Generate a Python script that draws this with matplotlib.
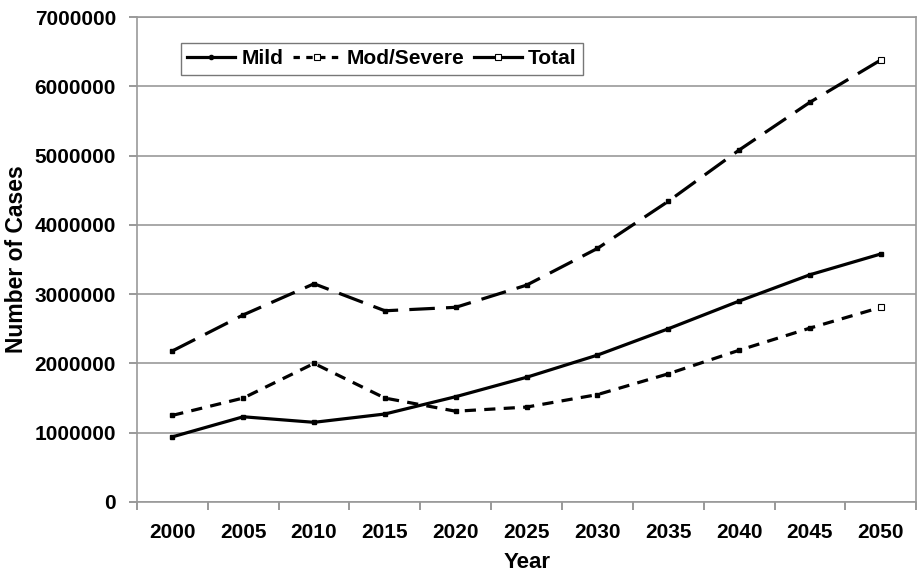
import matplotlib
matplotlib.use("Agg")
import matplotlib.pyplot as plt
from matplotlib.ticker import FixedLocator
from matplotlib.lines import Line2D

plt.rcParams['font.family'] = ['Liberation Sans', 'DejaVu Sans']

years = [2000, 2005, 2010, 2015, 2020, 2025, 2030, 2035, 2040, 2045, 2050]
mild = [940000, 1230000, 1150000, 1270000, 1520000, 1800000, 2120000, 2500000, 2900000, 3280000, 3580000]
mod_severe = [1250000, 1500000, 2000000, 1500000, 1310000, 1370000, 1550000, 1850000, 2190000, 2510000, 2810000]
total = [2180000, 2700000, 3150000, 2760000, 2810000, 3130000, 3660000, 4340000, 5080000, 5770000, 6380000]
yticks = [0, 1000000, 2000000, 3000000, 4000000, 5000000, 6000000, 7000000]

fig = plt.figure(figsize=(9.19, 5.77), dpi=100)
ax = fig.add_axes([0.149, 0.130, 0.848, 0.8405])

lw = 2.3
ax.plot(years, mild, color='black', lw=lw, ls='-', marker='s', ms=3, zorder=3)
ax.plot(years, mod_severe, color='black', lw=lw, ls=(0, (3.5, 2.6)), marker='s', ms=3,
        markevery=list(range(len(years) - 1)), zorder=3)
ax.plot(years[-1:], mod_severe[-1:], ls='none', marker='s', ms=5, mfc='white',
        mec='black', mew=0.8, zorder=4)
ax.plot(years, total, color='black', lw=lw, ls=(0, (8, 3.5)), marker='s', ms=3,
        markevery=list(range(len(years) - 1)), zorder=3)
ax.plot(years[-1:], total[-1:], ls='none', marker='s', ms=5, mfc='white',
        mec='black', mew=0.8, zorder=4)

h1 = Line2D([], [], color='black', lw=lw, ls='-', marker='o', ms=3)
h2 = Line2D([], [], color='black', lw=lw, ls=(0, (2, 2)), marker='s', ms=4,
            mfc='white', mec='black', mew=0.8)
h3 = Line2D([], [], color='black', lw=lw, ls='-', marker='s', ms=4,
            mfc='white', mec='black', mew=0.8)
leg = fig.legend([h1, h2, h3], ['Mild', 'Mod/Severe', 'Total'], ncol=3,
                 loc='upper left', bbox_to_anchor=(181 / 919, 1 - 43 / 577),
                 frameon=True, fancybox=False, handlelength=2.3, handletextpad=0.3,
                 columnspacing=0.45, borderpad=0.3, borderaxespad=0,
                 prop={'weight': 'bold', 'size': 15})
leg.get_frame().set_edgecolor('#555555')
leg.get_frame().set_linewidth(1.0)

ax.set_xlim(1997.5, 2052.5)
ax.set_ylim(0, 7000000)
ax.set_xticks(years)
ax.set_xticklabels([str(y) for y in years])
ax.xaxis.set_minor_locator(FixedLocator([1997.5 + 5 * k for k in range(12)]))
ax.tick_params(axis='x', which='major', length=0, pad=15)
ax.tick_params(axis='x', which='minor', length=6, color='#888888', width=1.2)
ax.set_yticks(yticks)
ax.set_yticklabels([str(v) for v in yticks])
ax.tick_params(axis='y', length=6, color='#888888', width=1.2, pad=9)
for lab in ax.get_xticklabels() + ax.get_yticklabels():
    lab.set_fontweight('bold')
    lab.set_fontsize(15)

ax.grid(axis='y', color='#999999', lw=1.2)
ax.set_axisbelow(True)
for s in ax.spines.values():
    s.set_color('#999999')
    s.set_linewidth(1.2)

ax.set_xlabel('Year', fontsize=16, fontweight='bold', labelpad=7)
ax.set_ylabel('Number of Cases', fontsize=16.5, fontweight='bold', labelpad=5)

fig.savefig('out.png', dpi=100)
